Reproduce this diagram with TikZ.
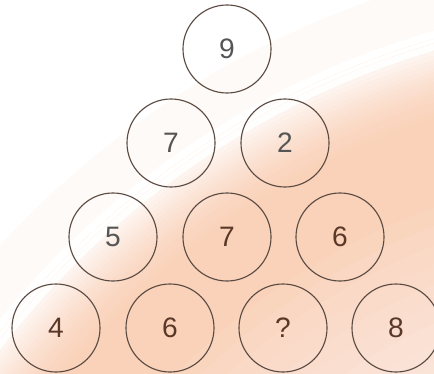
\documentclass[tikz,border=0pt]{standalone}
\usepackage{fontspec}
\setmainfont{Liberation Sans}
\definecolor{peach}{HTML}{FAD2BA}
\definecolor{ringline}{HTML}{5A4A42}
\definecolor{numgray}{HTML}{555555}
\definecolor{numbrown}{HTML}{5A3828}

\begin{document}
\begin{tikzpicture}[
    x=0.025cm, y=-0.025cm,
    font=\fontsize{20}{24}\selectfont,
    ball/.style={draw=ringline, line width=0.8pt, circle, minimum size=2.2cm, inner sep=0pt, text=numbrown},
    pale/.style={ball, text=numgray}
  ]
  \useasboundingbox (0,0) rectangle (434,374);
  % backdrop: a large peach disc, fading to white at its rim
  \begin{scope}
    \clip (0,0) rectangle (434,374);
    \coordinate (hub) at (675,865);
    \fill[peach] (hub) circle[radius=21.5cm];
    % lighter towards the bottom right
    \foreach \k in {0,...,9}
      \fill[white, opacity=0.07] (hub) circle[radius=17.5cm-\k*0.45cm];
    % soft rim
    \foreach \k in {0,...,19}{
      \pgfmathsetmacro{\op}{(1-\k/20)^1.6}
      \draw[white, opacity=\op, line width=0.1cm] (hub) circle[radius=21.45cm-\k*0.1cm];
    }
    % faint glow beyond the rim
    \draw[peach, opacity=0.12, line width=1.2cm] (hub) circle[radius=22.3cm];
    \draw[white, opacity=0.9, line width=0.15cm] (hub) circle[radius=21.3cm];
  \end{scope}

  \node[pale] (c11) at (227,49) {9};

  \node[pale] (c21) at (171,143) {7};
  \node[pale] (c22) at (285,143) {2};

  \node[pale] (c31) at (113,237) {5};
  \node[ball] (c32) at (227,237) {7};
  \node[ball] (c33) at (340,237) {6};

  \node[ball] (c41) at (56,328) {4};
  \node[ball] (c42) at (170,328) {6};
  \node[ball] (c43) at (283,328) {?};
  \node[ball] (c44) at (396,328) {8};
\end{tikzpicture}
\end{document}
